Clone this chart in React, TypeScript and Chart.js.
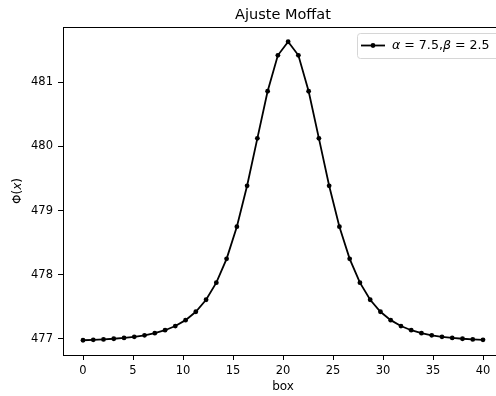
import React, { useEffect, useRef } from "react";
import { Chart, registerables } from "chart.js";

Chart.register(...registerables);

const xValues = [
  0, 1.026, 2.051, 3.077, 4.103, 5.128, 6.154, 7.179, 8.205, 9.231,
  10.256, 11.282, 12.308, 13.333, 14.359, 15.385, 16.41, 17.436, 18.462, 19.487,
  20.513, 21.538, 22.564, 23.59, 24.615, 25.641, 26.667, 27.692, 28.718, 29.744,
  30.769, 31.795, 32.821, 33.846, 34.872, 35.897, 36.923, 37.949, 38.974, 40,
];
const yValues = [
  476.98, 476.986, 476.993, 477.003, 477.016, 477.033, 477.057, 477.09, 477.136, 477.201,
  477.293, 477.424, 477.611, 477.877, 478.248, 478.749, 479.386, 480.125, 480.859, 481.419,
  481.63, 481.419, 480.859, 480.125, 479.386, 478.749, 478.248, 477.877, 477.611, 477.424,
  477.293, 477.201, 477.136, 477.09, 477.057, 477.033, 477.016, 477.003, 476.993, 476.986,
];
const xTicks = [0, 5, 10, 15, 20, 25, 30, 35, 40];
const yTicks = [477, 478, 479, 480, 481];
const chartTitle = "Ajuste Moffat";
const xLabel = "box";
const yLabelParts = [
  { t: "Φ(", italic: false },
  { t: "x", italic: true },
  { t: ")", italic: false },
];
const legendParts = [
  { t: "α", italic: true },
  { t: " = 7.5,", italic: false },
  { t: "β", italic: true },
  { t: " = 2.5", italic: false },
];

const FONT = '"DejaVu Sans", sans-serif';
const TICK_SIZE = 11.5;

function drawParts(ctx: CanvasRenderingContext2D, parts: { t: string; italic: boolean }[], x: number, y: number, size: number) {
  let cx = x;
  for (const p of parts) {
    ctx.font = `${p.italic ? "italic " : ""}${size}px ${FONT}`;
    ctx.fillText(p.t, cx, y);
    cx += ctx.measureText(p.t).width;
  }
  return cx - x;
}
function measureParts(ctx: CanvasRenderingContext2D, parts: { t: string; italic: boolean }[], size: number) {
  let w = 0;
  for (const p of parts) {
    ctx.font = `${p.italic ? "italic " : ""}${size}px ${FONT}`;
    w += ctx.measureText(p.t).width;
  }
  return w;
}

const decorPlugin = {
  id: "decor",
  afterDraw(chart: any) {
    const ctx: CanvasRenderingContext2D = chart.ctx;
    const a = chart.chartArea;
    ctx.save();
    // frame
    ctx.strokeStyle = "#000";
    ctx.lineWidth = 1;
    ctx.strokeRect(Math.round(a.left) + 0.5, Math.round(a.top) + 0.5, a.right - a.left, a.bottom - a.top);
    // title
    ctx.fillStyle = "#000";
    ctx.textAlign = "center";
    ctx.textBaseline = "alphabetic";
    ctx.font = `14.5px ${FONT}`;
    const cx = (a.left + a.right) / 2;
    ctx.fillText(chartTitle, cx, 19);
    // x label
    ctx.font = `12px ${FONT}`;
    ctx.fillText(xLabel, cx, 390);
    // y label
    ctx.textAlign = "left";
    ctx.save();
    const cy = (a.top + a.bottom) / 2;
    ctx.translate(21, cy);
    ctx.rotate(-Math.PI / 2);
    const yw = measureParts(ctx, yLabelParts, 12);
    drawParts(ctx, yLabelParts, -yw / 2, 0, 12);
    ctx.restore();
    // legend
    const lx = 357, ly = 33, lw = 142, lh = 25;
    ctx.beginPath();
    ctx.roundRect(lx + 0.5, ly + 0.5, lw, lh, 3);
    ctx.fillStyle = "rgba(255,255,255,0.8)";
    ctx.fill();
    ctx.strokeStyle = "#d6d6d6";
    ctx.lineWidth = 1;
    ctx.stroke();
    const my = ly + lh / 2;
    ctx.beginPath();
    ctx.moveTo(361, my);
    ctx.lineTo(385, my);
    ctx.strokeStyle = "#000";
    ctx.lineWidth = 1.8;
    ctx.stroke();
    ctx.beginPath();
    ctx.arc(373, my, 2.4, 0, Math.PI * 2);
    ctx.fillStyle = "#000";
    ctx.fill();
    ctx.textBaseline = "middle";
    drawParts(ctx, legendParts, 392, my + 0.5, 12.6);
    ctx.restore();
  },
};

export default function App() {
  const ref = useRef<HTMLCanvasElement | null>(null);
  useEffect(() => {
    if (!ref.current) return;
    const chart = new Chart(ref.current, {
      type: "line",
      data: {
        datasets: [
          {
            label: "α = 7.5,β = 2.5",
            data: xValues.map((x, i) => ({ x, y: yValues[i] })),
            borderColor: "#000",
            backgroundColor: "#000",
            borderWidth: 1.8,
            pointRadius: 2.4,
            pointBorderWidth: 0,
            pointBackgroundColor: "#000",
            tension: 0,
            fill: false,
          },
        ],
      },
      options: {
        responsive: false,
        animation: false,
        devicePixelRatio: 1,
        layout: { padding: { top: 27, left: 0, right: 57, bottom: 0 } },
        plugins: {
          legend: { display: false },
          title: { display: false },
          tooltip: { enabled: false },
        },
        scales: {
          x: {
            type: "linear",
            min: -2,
            max: 42,
            afterBuildTicks: (s: any) => {
              s.ticks = xTicks.map((v) => ({ value: v }));
            },
            afterFit: (s: any) => {
              s.height = 41;
            },
            grid: { display: true, drawOnChartArea: false, drawTicks: true, tickLength: 5, color: "#000", lineWidth: 1 },
            border: { display: true, color: "#000", width: 1 },
            ticks: { color: "#000", font: { family: FONT, size: TICK_SIZE }, padding: 4, maxRotation: 0, autoSkip: false },
          },
          y: {
            type: "linear",
            min: 476.75,
            max: 481.86,
            afterBuildTicks: (s: any) => {
              s.ticks = yTicks.map((v) => ({ value: v }));
            },
            afterFit: (s: any) => {
              s.width = 63;
            },
            grid: { display: true, drawOnChartArea: false, drawTicks: true, tickLength: 5, color: "#000", lineWidth: 1 },
            border: { display: true, color: "#000", width: 1 },
            ticks: { color: "#000", font: { family: FONT, size: TICK_SIZE }, padding: 5, autoSkip: false },
          },
        },
      },
      plugins: [decorPlugin],
    });
    return () => chart.destroy();
  }, []);
  return (
    <div style={{ position: "fixed", left: 0, top: 0, width: 496, height: 396, overflow: "hidden", background: "#fff" }}>
      <canvas ref={ref} width={560} height={396} style={{ display: "block", width: 560, height: 396 }} />
    </div>
  );
}
